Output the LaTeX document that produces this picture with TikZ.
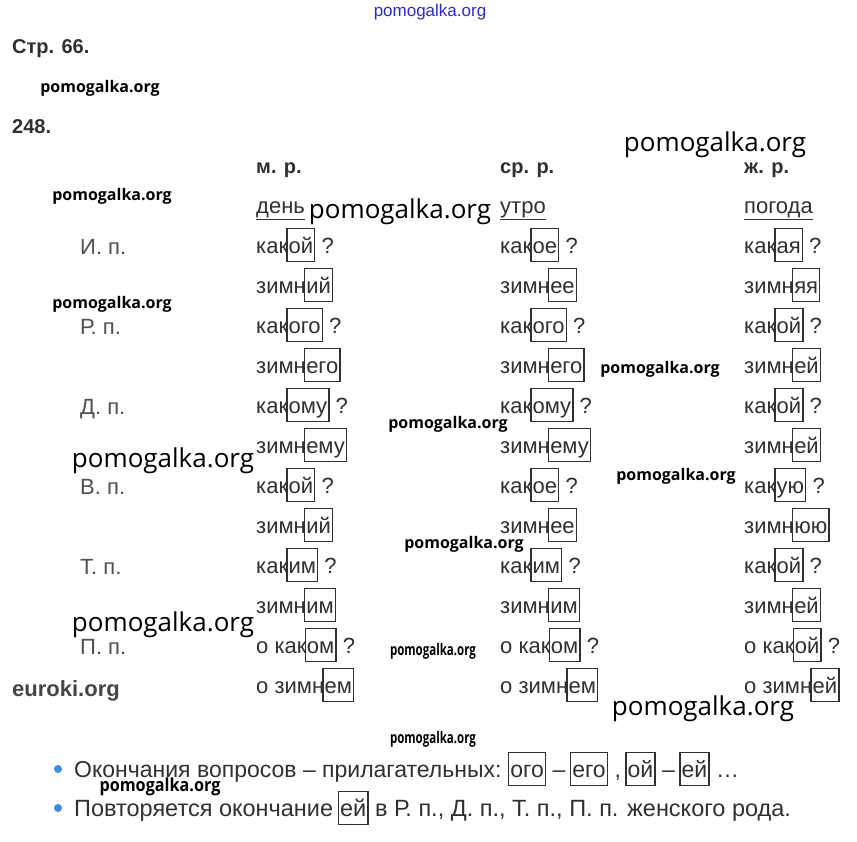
\documentclass[tikz,border=0pt]{standalone}
\usepackage{fontspec}
\setmainfont{Liberation Sans}
\newfontfamily\wmfont{Open Sans}
\usetikzlibrary{positioning}
\definecolor{txt}{HTML}{303030}
\definecolor{bulblue}{HTML}{3C8EE2}
\definecolor{wmblue}{HTML}{2B2BD0}
% boxed ending of a word
\newcommand\okb[1]{{\setlength\fboxsep{0pt}\setlength\fboxrule{1.4pt}\kern-2pt\fbox{\kern1pt\rule[-8pt]{0pt}{32pt}#1\kern1pt}}}
\tikzset{
    x=1pt, y=-1pt, % pixel coordinates, y goes down
    word/.style={anchor=base west, inner sep=0pt, text=txt, font=\fontsize{22}{26}\selectfont},
    head/.style={word, font=\fontsize{20}{24}\selectfont\bfseries},
    case/.style={word, text=txt!85},
    wm/.style={inner sep=0pt, font=\wmfont\fontsize{16}{18}\selectfont\bfseries}, % small watermark
    wmbig/.style={inner sep=0pt, font=\wmfont\fontsize{26}{30}\selectfont}, % large watermark
    bul/.style={circle, fill=bulblue, inner sep=0pt, minimum size=8pt},
}

\begin{document}
\begin{tikzpicture}
  \useasboundingbox[fill=white] (0,0) rectangle (857,841);

  % heading
  \node[wm, font=\fontsize{17}{19}\selectfont, text=wmblue] (wtop) at (430,12) {pomogalka.org};
  \node[head] (page) at (12,53) {Стр. 66.};
  \node[wm] (w1) at (100,88) {pomogalka.org};
  \node[head] (num) at (12,133) {248.};

  % genders
  \node[head] (hm) at (256,173) {м. р.};
  \node[head] (hn) at (500,173) {ср. р.};
  \node[head] (hf) at (744,173) {ж. р.};
  \node[word] (dm) at (256,213) {\underline{день}};
  \node[word] (dn) at (500,213) {\underline{утро}};
  \node[word] (df) at (744,213) {\underline{погода}};

  % cases
  \foreach \c [count=\i from 0] in {И. п., Р. п., Д. п., В. п., Т. п., П. п.}
    \node[case] (c\i) at (80,254+80*\i) {\c};

  % table rows
  \foreach \y/\a/\b/\c [count=\i] in {
      246/как\okb{ой} ?/как\okb{ое} ?/как\okb{ая} ?,
      286/зимн\okb{ий}/зимн\okb{ее}/зимн\okb{яя},
      326/как\okb{ого} ?/как\okb{ого} ?/как\okb{ой} ?,
      366/зимн\okb{его}/зимн\okb{его}/зимн\okb{ей},
      406/как\okb{ому} ?/как\okb{ому} ?/как\okb{ой} ?,
      446/зимн\okb{ему}/зимн\okb{ему}/зимн\okb{ей},
      486/как\okb{ой} ?/как\okb{ое} ?/как\okb{ую} ?,
      526/зимн\okb{ий}/зимн\okb{ее}/зимн\okb{юю},
      566/как\okb{им} ?/как\okb{им} ?/как\okb{ой} ?,
      606/зимн\okb{им}/зимн\okb{им}/зимн\okb{ей},
      646/о как\okb{ом} ?/о как\okb{ом} ?/о как\okb{ой} ?,
      686/о зимн\okb{ем}/о зимн\okb{ем}/о зимн\okb{ей}}
  {
    \node[word] (m\i) at (256,\y+7) {\a};
    \node[word] (n\i) at (500,\y+7) {\b};
    \node[word] (f\i) at (744,\y+7) {\c};
  }
  \node[head, font=\fontsize{22}{24}\selectfont\bfseries, text=txt!90] (eur) at (12,696) {euroki.org};

  % watermarks
  \node[wmbig] (w2) at (715,145) {pomogalka.org};
  \node[wm] (w3) at (112,196) {pomogalka.org};
  \node[wmbig] (w4) at (400,212) {pomogalka.org};
  \node[wm] (w5) at (112,304) {pomogalka.org};
  \node[wm] (w6) at (660,369) {pomogalka.org};
  \node[wm] (w7) at (448,424) {pomogalka.org};
  \node[wmbig] (w8) at (163,461) {pomogalka.org};
  \node[wm] (w9) at (676,476) {pomogalka.org};
  \node[wm] (w10) at (464,544) {pomogalka.org};
  \node[wmbig] (w11) at (163,625) {pomogalka.org};
  \node[wm, xscale=0.72] (w12) at (433,651) {pomogalka.org};
  \node[wmbig] (w13) at (703,709) {pomogalka.org};
  \node[wm, xscale=0.72] (w14) at (433,739) {pomogalka.org};

  % notes
  \node[bul] (b1) at (58,769) {};
  \node[word, font=\fontsize{23}{26}\selectfont] (t1) at (74,777)
    {Окончания вопросов – прилагательных: \okb{ого} – \okb{его} , \okb{ой} – \okb{ей} …};
  \node[wm, font=\wmfont\fontsize{18}{20}\selectfont\bfseries, xscale=0.9] (w15) at (160,787) {pomogalka.org};
  \node[bul] (b2) at (58,808) {};
  \node[word, font=\fontsize{23.5}{26}\selectfont] (t2) at (74,816)
    {Повторяется окончание \okb{ей} в Р. п., Д. п., Т. п., П. п. женского рода.};
\end{tikzpicture}
\end{document}
